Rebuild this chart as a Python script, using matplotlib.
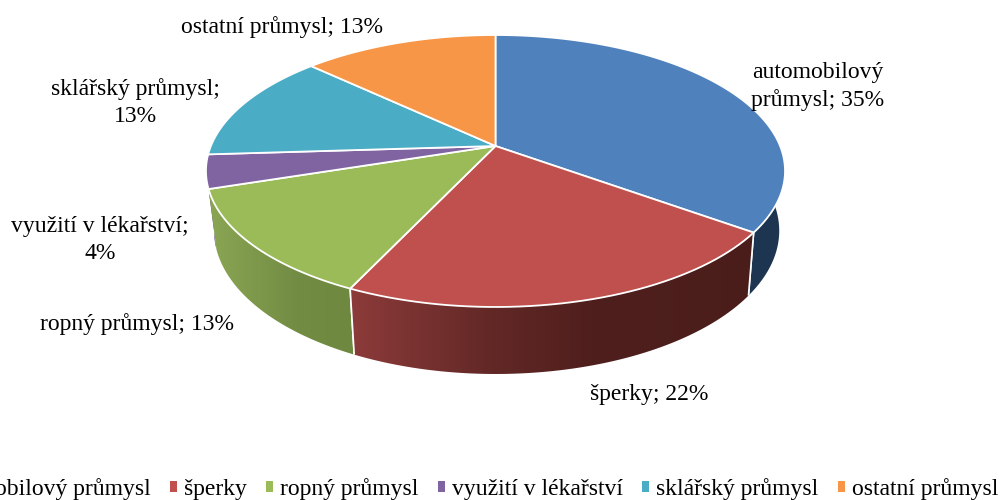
import numpy as np
import matplotlib
matplotlib.use("Agg")
import matplotlib.pyplot as plt
from matplotlib.patches import Patch, PathPatch
from matplotlib.path import Path
from matplotlib.transforms import Transform
from matplotlib.colors import to_rgb

categories = ["automobilový průmysl", "šperky", "ropný průmysl",
              "využití v lékařství", "sklářský průmysl", "ostatní průmysl"]
values = [35, 22, 13, 4, 13, 13]
colors = ["#4F81BD", "#C0504D", "#9BBB59", "#8064A2", "#4BACC6", "#F79646"]
label_texts = ["automobilový\nprůmysl; 35%", "šperky; 22%", "ropný průmysl; 13%",
               "využití v lékařství;\n4%", "sklářský průmysl;\n13%", "ostatní průmysl; 13%"]

# layout (pixels of the 1001x500 canvas)
label_pos = [(818, 86.5), (649, 394.5), (137, 324.5), (100, 240), (135, 102.5), (282, 27)]
wall_stops = [
    [(0, "#1D3550"), (1, "#1D3550")],
    [(0, "#8C3B3A"), (0.35, "#622826"), (0.6, "#4F1F1D"), (1, "#4A1D1B")],
    [(0, "#8AA653"), (0.6, "#738C44"), (1, "#6F883F")],
    [(0, "#4C3A62"), (1, "#4C3A62")],
    [(0, "#2C6777"), (1, "#2C6777")],
    [(0, "#95581F"), (1, "#95581F")],
]
FS = 17.0
CX, CY = 495.5, 146.0
K, A, RX = 0.1838, 131.4, 284.6
XS_RIGHT, XS_LEFT = 0.98, 0.972


def to_screen(u, v):
    w = 1 + K * v
    return CX + RX * u / w, CY - A * v / w


def to_floor(x, y):
    s = np.where(x >= CX, XS_RIGHT, XS_LEFT)
    return CX + s * (x - CX), y + 63 + 0.0533 * (y - 232)


class DiskToScreen(Transform):
    input_dims = output_dims = 2
    is_separable = False
    has_inverse = False

    def transform_non_affine(self, xy):
        xy = np.asarray(xy, float)
        x, y = to_screen(xy[:, 0], xy[:, 1])
        return np.column_stack([x, y])

    def transform_path_non_affine(self, path):
        pts = []
        for seg, code in path.iter_bezier():
            if code == Path.MOVETO:
                continue
            pts.append(seg(np.linspace(0, 1, 24)))
        pts = np.vstack(pts)
        pts = np.vstack([pts, pts[:1]])
        return Path(self.transform_non_affine(pts), closed=True)


fig = plt.figure(figsize=(10.01, 5.0), dpi=100)
ax = fig.add_axes([0, 0, 1, 1])

fractions = np.array(values, float) / np.sum(values)
edges = np.concatenate([[0], np.cumsum(fractions)]) * 2 * np.pi
mids = (edges[:-1] + edges[1:]) / 2
order = np.argsort(-np.cos(mids))

# side walls, back to front; each wall is a union of thin quads so the
# silhouette between the top rim and the floor rim is filled
for z, i in enumerate(order):
    th = np.linspace(edges[i], edges[i + 1], 80)
    tx, ty = to_screen(np.sin(th), np.cos(th))
    bx, by = to_floor(tx, ty)
    verts, codes = [], []
    for j in range(len(th) - 1):
        q = [(tx[j], ty[j]), (tx[j + 1], ty[j + 1]), (bx[j + 1], by[j + 1]), (bx[j], by[j]), (tx[j], ty[j])]
        verts += q
        codes += [Path.MOVETO, Path.LINETO, Path.LINETO, Path.LINETO, Path.CLOSEPOLY]
    all_x, all_y = np.r_[tx, bx], np.r_[ty, by]
    pos = [s[0] for s in wall_stops[i]]
    rgb = np.array([to_rgb(s[1]) for s in wall_stops[i]])
    t = np.linspace(0, 1, 256)
    grad = np.stack([np.interp(t, pos, rgb[:, c]) for c in range(3)], axis=-1)[None, :, :]
    im = ax.imshow(grad, extent=(all_x.min(), all_x.max(), all_y.max(), all_y.min()), aspect="auto",
                   zorder=1 + z * 0.1, interpolation="bilinear")
    clip = PathPatch(Path(verts, codes), facecolor="none", edgecolor="none", transform=ax.transData)
    ax.add_patch(clip)
    im.set_clip_path(clip)
    for k in (0, -1):
        if np.cos(th[k]) < 0 and abs(np.sin(th[k])) < 0.93:
            ax.plot([tx[k], bx[k]], [ty[k], by[k]], color="white", lw=1.2, zorder=1.05 + z * 0.1,
                    solid_capstyle="butt")

# top surface
wedges, _ = ax.pie(values, colors=colors, startangle=90, counterclock=False,
                   wedgeprops=dict(edgecolor="white", linewidth=1.3))
proj = DiskToScreen() + ax.transData
for w in wedges:
    w.set_transform(proj)
    w.set_zorder(3)
    w.set_clip_on(False)

for txt, (x, y) in zip(label_texts, label_pos):
    ax.text(x, y, txt, ha="center", va="center", fontsize=FS, family="Liberation Serif",
            color="black", linespacing=1.33, zorder=4)

handles = [Patch(facecolor=c, edgecolor="none") for c in colors]
ax.legend(handles, categories, loc="center", bbox_to_anchor=(460, 489),
          bbox_transform=ax.transData, ncol=6, frameon=False, borderaxespad=0, borderpad=0,
          handlelength=0.3, handleheight=0.3, handletextpad=0.3, columnspacing=0.81,
          prop=dict(family="Liberation Serif", size=FS))

ax.set_aspect("auto")
ax.set_xlim(0, 1001)
ax.set_ylim(500, 0)
ax.axis("off")
fig.savefig("out.png", dpi=100, facecolor="white")
